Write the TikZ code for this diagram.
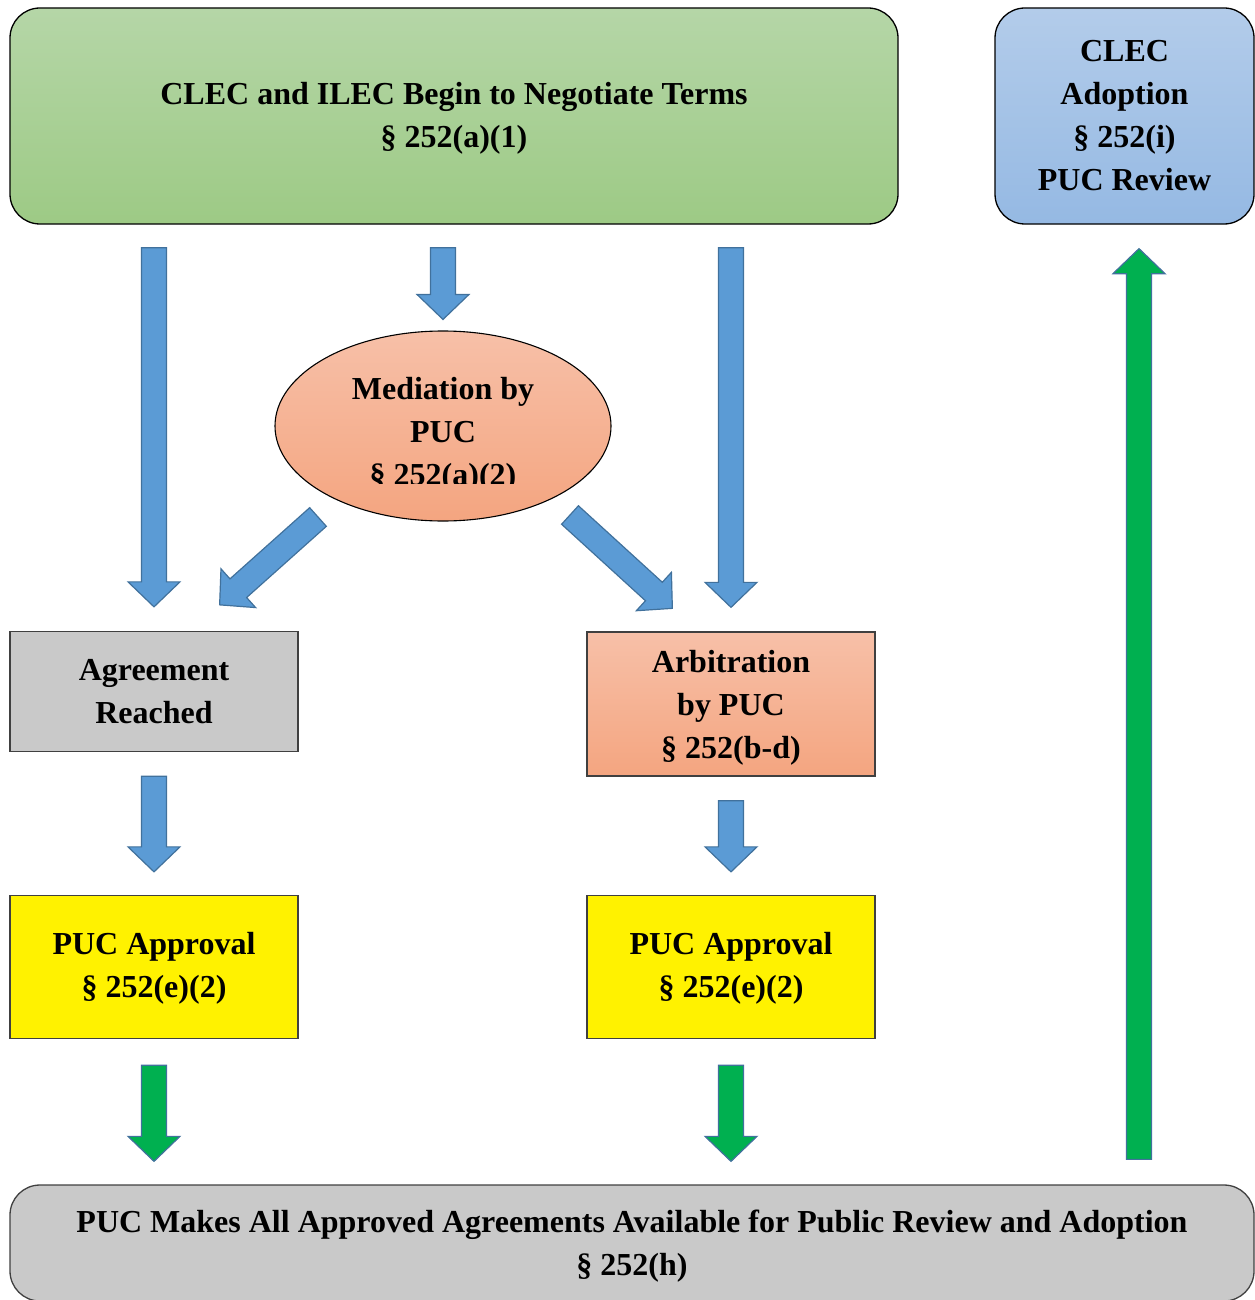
\documentclass[tikz,border=0pt]{standalone}
\usepackage{fontspec}
\setmainfont{Liberation Serif}
\usetikzlibrary{calc,shapes.geometric}
\definecolor{arrblue}{HTML}{5B9BD5}
\definecolor{arredge}{HTML}{41719C}
\definecolor{arrgreen}{HTML}{00B050}
\definecolor{greentop}{HTML}{B5D6A7}
\definecolor{greenbot}{HTML}{9DCA85}
\definecolor{bluetop}{HTML}{B3CCEA}
\definecolor{bluebot}{HTML}{95B9E3}
\definecolor{salmtop}{HTML}{F7C0A8}
\definecolor{salmbot}{HTML}{F4A580}
\definecolor{graybox}{HTML}{C9C9C9}
\definecolor{boxedge}{HTML}{404040}
\newcommand\blockarrow[3]{%
  \path #2 coordinate (ba-t) #3 coordinate (ba-h);
  \coordinate (ba-n) at ($(ba-h)!25pt!(ba-t)$);
  \draw[#1] ($(ba-t)!12.5pt!90:(ba-h)$) -- ($(ba-n)!12.5pt!90:(ba-h)$)
    -- ($(ba-n)!26pt!90:(ba-h)$) -- (ba-h) -- ($(ba-n)!26pt!-90:(ba-h)$)
    -- ($(ba-n)!12.5pt!-90:(ba-h)$) -- ($(ba-t)!12.5pt!-90:(ba-h)$) -- cycle;
}
\tikzset{
  lbl/.style={font=\bfseries\fontsize{32}{43}\selectfont, align=center, text=black, inner sep=0pt},
  box/.style={draw=boxedge, line width=1.3pt, inner sep=0pt},
  barrow/.style={fill=arrblue, draw=arredge, line width=1.2pt, line join=miter},
  garrow/.style={fill=arrgreen, draw=arredge, line width=1.2pt, line join=miter}
}
\begin{document}
\begin{tikzpicture}[x=1pt,y=-1pt]
\useasboundingbox (0,0) rectangle (1254,1300);
% boxes
\node[box, rounded corners=30pt, draw=black, top color=greentop, bottom color=greenbot,
      minimum width=888pt, minimum height=216pt] (neg) at (454,116) {};
\node[lbl] (negtxt) at ($(neg.center)+(0,2)$) {CLEC and ILEC Begin to Negotiate Terms\\§ 252(a)(1)};
\node[box, rounded corners=30pt, draw=black, top color=bluetop, bottom color=bluebot,
      minimum width=259pt, minimum height=216pt] (clec) at (1124.5,116) {};
\node[lbl] (clectxt) at ($(clec.center)+(0,-0.5)$) {CLEC\\Adoption\\§ 252(i)\\PUC Review};
\node[ellipse, draw=black, line width=1.1pt, top color=salmtop, bottom color=salmbot,
      minimum width=336pt, minimum height=190pt, inner sep=0pt] (med) at (443,426) {};
\begin{scope}
  \clip (270,320) rectangle (620,483.5);
  \node[lbl] (medtxt) at ($(med.center)+(0,8.5)$) {Mediation by\\PUC\\§ 252(a)(2)};
\end{scope}
\node[box, fill=graybox, minimum width=288pt, minimum height=120pt] (agree) at (154,691.5) {};
\node[lbl] (agreetxt) at ($(agree.center)+(0,0)$) {Agreement\\Reached};
\node[box, top color=salmtop, bottom color=salmbot, minimum width=288pt, minimum height=144pt]
      (arb) at (731,704) {};
\node[lbl] (arbtxt) at ($(arb.center)+(0,4)$) {Arbitration\\by PUC\\§ 252(b-d)};
\node[box, fill=yellow, minimum width=288pt, minimum height=143pt] (appl) at (154,967) {};
\node[lbl] (appltxt) at ($(appl.center)+(0,1.5)$) {PUC Approval\\§ 252(e)(2)};
\node[box, fill=yellow, minimum width=288pt, minimum height=143pt] (appr) at (731,967) {};
\node[lbl] (apprtxt) at ($(appr.center)+(0,1.5)$) {PUC Approval\\§ 252(e)(2)};
\node[box, rounded corners=30pt, fill=graybox, minimum width=1244pt, minimum height=116pt]
      (pub) at (632,1243) {};
\node[lbl] (pubtxt) at ($(pub.center)+(0,3)$)
      {PUC Makes All Approved Agreements Available for Public Review and Adoption\\§ 252(h)};
% blue arrows
\blockarrow{barrow}{($(neg.south -| agree.north)+(0,23)$)}{($(agree.north)+(0,-24)$)}
\blockarrow{barrow}{($(neg.south -| med.north)+(0,23)$)}{($(med.north)+(0,-11)$)}
\blockarrow{barrow}{($(neg.south -| arb.north)+(0,23)$)}{($(arb.north)+(0,-24)$)}
\blockarrow{barrow}{($(med.center)+(-125,91)$)}{($(agree.north east)+(-79,-26)$)}
\blockarrow{barrow}{($(med.center)+(127,89)$)}{($(arb.north west)+(86,-23)$)}
\blockarrow{barrow}{($(agree.south)+(0,24)$)}{($(appl.north)+(0,-23)$)}
\blockarrow{barrow}{($(arb.south)+(0,24)$)}{($(appr.north)+(0,-23)$)}
% green arrows
\blockarrow{garrow}{($(appl.south)+(0,26)$)}{($(appl.south |- pub.north)+(0,-23)$)}
\blockarrow{garrow}{($(appr.south)+(0,26)$)}{($(appr.south |- pub.north)+(0,-23)$)}
\blockarrow{garrow}{($(pub.north -| clec.south)+(14.5,-25)$)}{($(clec.south)+(14.5,24)$)}
\end{tikzpicture}
\end{document}
